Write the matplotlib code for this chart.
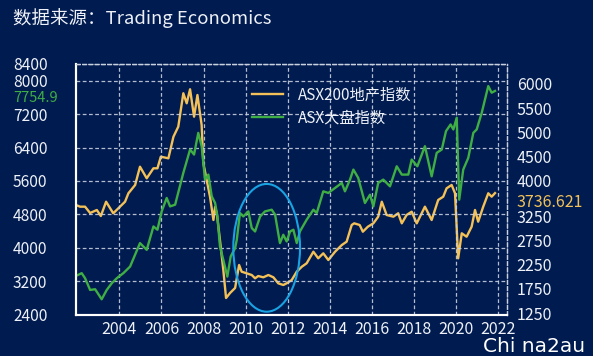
import matplotlib
matplotlib.use('Agg')
import matplotlib.pyplot as plt
from matplotlib.patches import Ellipse

plt.rcParams['font.family'] = ['Noto Sans CJK SC', 'DejaVu Sans']

# ASX200 地产指数 (right axis) - decimal year, value
prop_years = [2001.94, 2002.13, 2002.37, 2002.61, 2002.93, 2003.12, 2003.37, 2003.71,
              2004.03, 2004.27, 2004.43, 2004.75, 2004.98, 2005.30, 2005.62, 2005.81,
              2005.97, 2006.33, 2006.57, 2006.80, 2007.04, 2007.20, 2007.36, 2007.55,
              2007.71, 2007.91, 2007.99, 2008.15, 2008.31, 2008.47, 2008.55, 2008.63,
              2008.78, 2008.94, 2009.07, 2009.26, 2009.50, 2009.69, 2009.81, 2010.05,
              2010.29, 2010.45, 2010.60, 2010.84, 2011.08, 2011.32, 2011.55, 2011.79,
              2011.95, 2012.19, 2012.43, 2012.67, 2012.90, 2013.22, 2013.45, 2013.69,
              2013.93, 2014.25, 2014.57, 2014.80, 2015.04, 2015.16, 2015.42, 2015.57,
              2015.81, 2016.07, 2016.30, 2016.47, 2016.70, 2017.02, 2017.25, 2017.42,
              2017.65, 2017.89, 2018.13, 2018.52, 2018.84, 2019.15, 2019.39, 2019.55,
              2019.79, 2019.95, 2020.10, 2020.27, 2020.50, 2020.74, 2020.90, 2021.05,
              2021.29, 2021.53, 2021.69, 2021.85]
prop_vals = [3490, 3455, 3455, 3324, 3386, 3262, 3558, 3318,
             3455, 3558, 3733, 3905, 4284, 4044, 4251, 4251,
             4492, 4458, 4906, 5114, 5807, 5599, 5890, 5321,
             5771, 5149, 4361, 4008, 3656, 3179, 3448, 3324,
             2764, 2142, 1561, 1665, 1769, 2246, 2107, 2073,
             2038, 1970, 2017, 1990, 2038, 1990, 1866, 1831,
             1866, 1934, 2107, 2210, 2281, 2521, 2384, 2488,
             2349, 2521, 2660, 2729, 3075, 3110, 3075, 2936,
             3040, 3110, 3247, 3558, 3283, 3247, 3318, 3110,
             3283, 3351, 3110, 3455, 3179, 3594, 3662, 3836,
             3905, 3733, 2384, 2903, 2832, 3040, 3386, 3144,
             3455, 3733, 3662, 3736.621]

# ASX 大盘指数 (left axis)
asx_years = [2001.94, 2002.21, 2002.37, 2002.61, 2002.85, 2003.16, 2003.40, 2003.64,
             2003.88, 2004.19, 2004.51, 2004.98, 2005.30, 2005.62, 2005.81, 2006.01,
             2006.25, 2006.41, 2006.65, 2007.04, 2007.36, 2007.55, 2007.75, 2007.91,
             2008.07, 2008.23, 2008.39, 2008.55, 2008.66, 2008.78, 2008.94, 2009.13,
             2009.29, 2009.50, 2009.58, 2009.73, 2009.89, 2010.13, 2010.29, 2010.45,
             2010.69, 2010.92, 2011.24, 2011.40, 2011.63, 2011.79, 2011.95, 2012.11,
             2012.27, 2012.43, 2012.58, 2012.90, 2013.22, 2013.38, 2013.69, 2013.93,
             2014.25, 2014.57, 2014.72, 2014.96, 2015.12, 2015.35, 2015.67, 2015.91,
             2016.07, 2016.30, 2016.54, 2016.86, 2017.18, 2017.42, 2017.73, 2017.89,
             2018.16, 2018.52, 2018.84, 2019.08, 2019.32, 2019.52, 2019.74, 2019.87,
             2020.03, 2020.15, 2020.34, 2020.58, 2020.82, 2020.98, 2021.22, 2021.53,
             2021.69, 2021.85]
asx_vals = [3325, 3390, 3270, 2988, 3005, 2765, 2988, 3149,
            3270, 3390, 3548, 4110, 3949, 4509, 4430, 4869,
            5191, 4989, 5030, 5792, 6351, 6231, 6750, 6431,
            5631, 5751, 5230, 5071, 4749, 4029, 3709, 3308,
            3788, 3990, 4190, 4831, 4749, 4869, 4471, 4389,
            4749, 4869, 4910, 4790, 4110, 4310, 4149, 4389,
            4430, 4110, 4389, 4670, 4910, 4831, 5350, 5311,
            5431, 5551, 5350, 5631, 5871, 5672, 5071, 5270,
            4989, 5551, 5631, 5470, 5950, 5751, 5751, 6111,
            5950, 6431, 5710, 6272, 6351, 6791, 6952, 6832,
            7113, 5150, 5871, 6152, 6752, 6832, 7233, 7872,
            7713, 7754.9]

left_ticks = [2400, 3200, 4000, 4800, 5600, 6400, 7200, 8000, 8400]
right_ticks = [1250, 1750, 2250, 2750, 3250, 4000, 4500, 5000, 5500, 6000]
year_ticks = list(range(2004, 2023, 2))

bg = '#001b50'
yellow = '#f3c158'
green = '#3fae44'
txt = '#eef1f7'
grid_c = '#c9d0de'

fig = plt.figure(figsize=(5.93, 3.56), dpi=100, facecolor=bg)
ax = fig.add_axes([76/593, 1-314.5/356, 431/593, 250.5/356])
ax2 = ax.twinx()
ax.set_zorder(ax2.get_zorder() + 1)
ax.patch.set_visible(False)
ax2.set_facecolor(bg)

l2, = ax2.plot(prop_years, prop_vals, color=yellow, lw=1.7, label='ASX200地产指数')
l1, = ax.plot(asx_years, asx_vals, color=green, lw=1.7, label='ASX大盘指数')

ax.set_xlim(2001.94, 2022.42)
ax.set_ylim(2400, 8400)
ax2.set_ylim(1219, 6414)
ax.set_xticks(year_ticks)
ax.set_yticks(left_ticks)
ax2.set_yticks(right_ticks)

ax.grid(True, color=grid_c, ls=(0, (3, 2)), lw=0.9, alpha=0.9)
ax.tick_params(axis='y', length=0, pad=45.4, labelsize=11.2, colors=txt)
ax.tick_params(axis='x', length=0, pad=5, labelsize=11.5, colors=txt)
ax2.tick_params(axis='y', length=0, pad=7, labelsize=11.5, colors=txt)
for lab in ax.get_yticklabels():
    lab.set_horizontalalignment('left')

for a in (ax, ax2):
    a.spines['left'].set_color('white')
    a.spines['bottom'].set_color('white')
    a.spines['left'].set_linewidth(1.5)
    a.spines['bottom'].set_linewidth(1.5)
    a.spines['top'].set_color(grid_c)
    a.spines['right'].set_color(grid_c)
    a.spines['top'].set_linestyle((0, (3, 2)))
    a.spines['right'].set_linestyle((0, (3, 2)))
    a.spines['top'].set_linewidth(0.9)
    a.spines['right'].set_linewidth(0.9)

# last values
ax.annotate(f'{asx_vals[-1]}', xy=(0, asx_vals[-1]), xycoords=('axes fraction', 'data'),
            xytext=(-45.4, -5.3), textcoords='offset points', ha='left',
            va='center', color=green, fontsize=10.5)
ax2.annotate(f'{prop_vals[-1]}', xy=(1, prop_vals[-1]), xycoords=('axes fraction', 'data'),
             xytext=(7, -5.5), textcoords='offset points', ha='left',
             va='center_baseline', color=yellow, fontsize=11.5)

ell = Ellipse((2011.0, 3997), width=3.17, height=3060, fill=False,
              edgecolor='#1aa3e3', lw=1.5, zorder=5)
ax.add_patch(ell)

leg = ax.legend(handles=[l2, l1], loc='upper left', bbox_to_anchor=(0.395, 0.935),
                frameon=False, fontsize=11, handlelength=2.0, handletextpad=1.0,
                labelspacing=0.4, borderaxespad=0)
for t in leg.get_texts():
    t.set_color(txt)

fig.text(13/593, 1-18/356, '数据来源：Trading Economics', color=txt, fontsize=13.3,
         ha='left', va='center')
fig.text(483/593, 1-352.5/356, 'Chi na2au', color='white', fontsize=14.5,
         ha='left', va='baseline', family='DejaVu Sans')

fig.savefig('out.png', dpi=100, facecolor=bg)
